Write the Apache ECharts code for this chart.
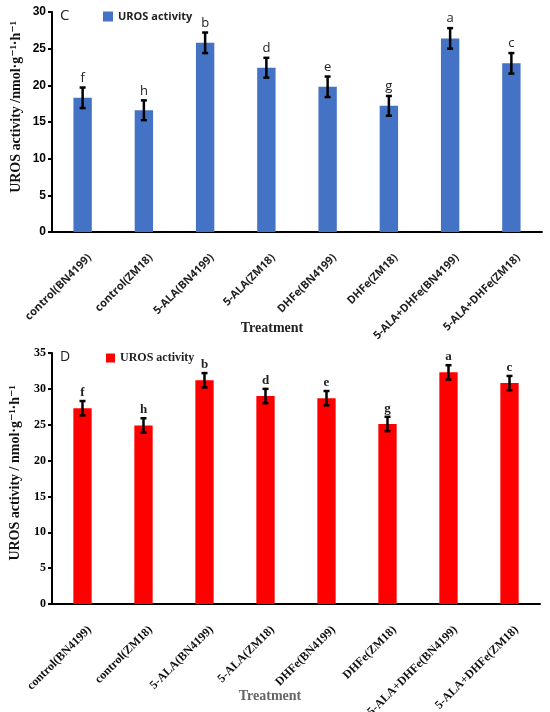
<!DOCTYPE html>
<html>
<head>
<meta charset="utf-8">
<script src="https://cdn.jsdelivr.net/npm/echarts@6/dist/echarts.min.js"></script>
<style>
  html, body { margin: 0; padding: 0; background: #fff; }
  #main { width: 550px; height: 712px; }
</style>
</head>
<body>
<div id="main"></div>
<script>
const categories = [
    'control(BN4199)', 'control(ZM18)', '5-ALA(BN4199)', '5-ALA(ZM18)',
    'DHFe(BN4199)', 'DHFe(ZM18)', '5-ALA+DHFe(BN4199)', '5-ALA+DHFe(ZM18)'
]

// panel C (blue)
const valuesC = [18.3, 16.6, 25.8, 22.4, 19.8, 17.2, 26.4, 23.0]
const errorsC = [1.4, 1.35, 1.4, 1.35, 1.4, 1.35, 1.4, 1.4]
const lettersC = ['f', 'h', 'b', 'd', 'e', 'g', 'a', 'c']

// panel D (red)
const valuesD = [27.3, 24.9, 31.2, 29.0, 28.7, 25.1, 32.3, 30.8]
const errorsD = [1.0, 1.0, 1.0, 1.0, 1.0, 1.0, 1.0, 1.0]
const lettersD = ['f', 'h', 'b', 'd', 'e', 'g', 'a', 'c']

const chartDom = document.getElementById('main')
const myChart = echarts.init(chartDom)

const SANS = '"Open Sans", "Liberation Sans", sans-serif'
const SERIF = '"Liberation Serif", "DejaVu Serif", serif'

function errorBars(letters, font, gap) {
    return function (params, api) {
        const i = api.value(0)
        const m = api.value(1)
        const e = api.value(2)
        const top = api.coord([i, m + e])
        const bot = api.coord([i, m - e])
        const hw = 3
        const st = { stroke: '#000', lineWidth: 2.5 }
        return {
            type: 'group',
            children: [
                { type: 'line', shape: { x1: top[0], y1: top[1], x2: bot[0], y2: bot[1] }, style: st },
                { type: 'line', shape: { x1: top[0] - hw, y1: top[1], x2: top[0] + hw, y2: top[1] }, style: st },
                { type: 'line', shape: { x1: bot[0] - hw, y1: bot[1], x2: bot[0] + hw, y2: bot[1] }, style: st },
                {
                    type: 'text',
                    x: top[0], y: top[1] - gap,
                    style: {
                        text: letters[params.dataIndex],
                        font: font,
                        fill: '#222',
                        align: 'center',
                        verticalAlign: 'bottom'
                    }
                }
            ]
        }
    }
}

function xAxisOf(gridIndex, family, size, color) {
    return {
        type: 'category',
        gridIndex,
        data: categories,
        axisLine: { lineStyle: { color: '#000', width: 2 } },
        axisTick: { length: 5, lineStyle: { color: '#000', width: 2 } },
        axisLabel: {
            rotate: 45,
            interval: 0,
            margin: 31,
            padding: [0, -10, 0, 0],
            fontFamily: family,
            fontWeight: 'bold',
            fontSize: size,
            color
        }
    }
}

function yAxisOf(gridIndex, max, family) {
    return {
        type: 'value',
        gridIndex,
        min: 0,
        max,
        interval: 5,
        splitLine: { show: false },
        axisLine: { show: true, lineStyle: { color: '#000', width: 2 } },
        axisTick: { show: true, length: 4, lineStyle: { color: '#000', width: 2 } },
        axisLabel: {
            margin: 6,
            fontFamily: family,
            fontWeight: 'bold',
            fontSize: 12,
            color: '#000'
        }
    }
}

const option = {
    animation: false,
    backgroundColor: '#fff',
    grid: [
        { left: 52, right: 8, top: 12, height: 220, outerBoundsMode: 'none', containLabel: false },
        { left: 52, right: 10, top: 353, height: 251, outerBoundsMode: 'none', containLabel: false }
    ],
    legend: [
        {
            data: ['UROS activity C'],
            left: 103, top: 11, padding: 0,
            icon: 'rect', itemWidth: 10, itemHeight: 10,
            formatter: () => 'UROS activity',
            textStyle: { fontFamily: SANS, fontWeight: 'bold', fontSize: 11, color: '#222' }
        },
        {
            data: ['UROS activity D'],
            left: 106, top: 352, padding: 0,
            icon: 'rect', itemWidth: 9, itemHeight: 9,
            formatter: () => 'UROS activity',
            textStyle: { fontFamily: SERIF, fontWeight: 'bold', fontSize: 12, color: '#222' }
        }
    ],
    xAxis: [
        xAxisOf(0, SANS, 11, '#222'),
        xAxisOf(1, SERIF, 12, '#111')
    ],
    yAxis: [
        yAxisOf(0, 30, '"Liberation Sans", sans-serif'),
        yAxisOf(1, 35, SERIF)
    ],
    graphic: [
        { type: 'text', left: 60, top: 8, style: { text: 'C', font: '15px ' + SANS, fill: '#222' } },
        { type: 'text', left: 60, top: 350, style: { text: 'D', font: '14px ' + SANS, fill: '#222' } },
        {
            type: 'text', x: 16, y: 107, rotation: Math.PI / 2,
            style: { text: 'UROS activity /nmol·g⁻¹·h⁻¹', font: 'bold 14px ' + SERIF, fill: '#111', align: 'center', verticalAlign: 'middle' }
        },
        {
            type: 'text', x: 15, y: 473, rotation: Math.PI / 2,
            style: { text: 'UROS activity / nmol·g⁻¹·h⁻¹', font: 'bold 14px ' + SERIF, fill: '#111', align: 'center', verticalAlign: 'middle' }
        },
        {
            type: 'text', x: 272, y: 328,
            style: { text: 'Treatment', font: 'bold 14px ' + SERIF, fill: '#222', align: 'center', verticalAlign: 'middle' }
        },
        {
            type: 'text', x: 270, y: 696,
            style: { text: 'Treatment', font: 'bold 14px ' + SERIF, fill: '#666', align: 'center', verticalAlign: 'middle' }
        }
    ],
    series: [
        {
            name: 'UROS activity C',
            type: 'bar',
            xAxisIndex: 0, yAxisIndex: 0,
            barWidth: '30%',
            itemStyle: { color: '#4472C4' },
            data: valuesC
        },
        {
            type: 'custom',
            xAxisIndex: 0, yAxisIndex: 0,
            z: 5,
            renderItem: errorBars(lettersC, '13px ' + SANS, 3),
            data: valuesC.map((v, i) => [i, v, errorsC[i]])
        },
        {
            name: 'UROS activity D',
            type: 'bar',
            xAxisIndex: 1, yAxisIndex: 1,
            barWidth: '30%',
            itemStyle: { color: '#FF0000' },
            data: valuesD
        },
        {
            type: 'custom',
            xAxisIndex: 1, yAxisIndex: 1,
            z: 5,
            renderItem: errorBars(lettersD, 'bold 13px ' + SERIF, 2),
            data: valuesD.map((v, i) => [i, v, errorsD[i]])
        }
    ]
}

myChart.setOption(option)
</script>
</body>
</html>
